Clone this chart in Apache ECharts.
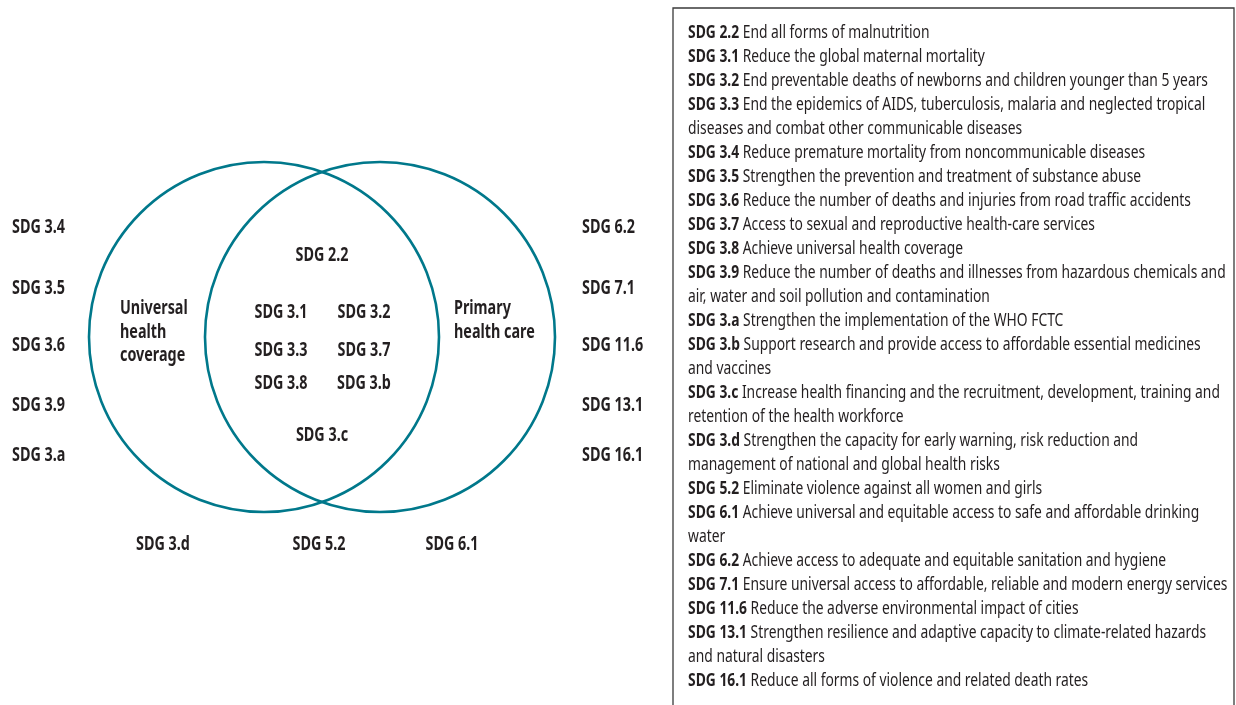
<!DOCTYPE html>
<html><head><meta charset="utf-8">
<style>html,body{margin:0;padding:0;background:#fff}#c{width:1236px;height:705px}</style>
<script src="https://cdn.jsdelivr.net/npm/echarts@6/dist/echarts.min.js"></script>
</head><body><div id="c"></div>
<script>
// ---------- DATA ----------
const setNames = ['Universal\nhealth\ncoverage', 'Primary\nhealth care'];
const leftGoals = ['SDG 3.4', 'SDG 3.5', 'SDG 3.6', 'SDG 3.9', 'SDG 3.a'];
const rightGoals = ['SDG 6.2', 'SDG 7.1', 'SDG 11.6', 'SDG 13.1', 'SDG 16.1'];
const bottomGoals = ['SDG 3.d', 'SDG 5.2', 'SDG 6.1'];
const sharedTop = ['SDG 2.2'];
const sharedGrid = ['SDG 3.1', 'SDG 3.2', 'SDG 3.3', 'SDG 3.7', 'SDG 3.8', 'SDG 3.b'];
const sharedBottom = ['SDG 3.c'];
const legendCodes = ['SDG 2.2','SDG 3.1','SDG 3.2','SDG 3.3','SDG 3.4','SDG 3.5','SDG 3.6','SDG 3.7','SDG 3.8','SDG 3.9','SDG 3.a','SDG 3.b','SDG 3.c','SDG 3.d','SDG 5.2','SDG 6.1','SDG 6.2','SDG 7.1','SDG 11.6','SDG 13.1','SDG 16.1'];
const legendTexts = [
  'End all forms of malnutrition',
  'Reduce the global maternal mortality',
  'End preventable deaths of newborns and children younger than 5 years',
  'End the epidemics of AIDS, tuberculosis, malaria and neglected tropical\ndiseases and combat other communicable diseases',
  'Reduce premature mortality from noncommunicable diseases',
  'Strengthen the prevention and treatment of substance abuse',
  'Reduce the number of deaths and injuries from road traffic accidents',
  'Access to sexual and reproductive health-care services',
  'Achieve universal health coverage',
  'Reduce the number of deaths and illnesses from hazardous chemicals and\nair, water and soil pollution and contamination',
  'Strengthen the implementation of the WHO FCTC',
  'Support research and provide access to affordable essential medicines\nand vaccines',
  'Increase health financing and the recruitment, development, training and\nretention of the health workforce',
  'Strengthen the capacity for early warning, risk reduction and\nmanagement of national and global health risks',
  'Eliminate violence against all women and girls',
  'Achieve universal and equitable access to safe and affordable drinking\nwater',
  'Achieve access to adequate and equitable sanitation and hygiene',
  'Ensure universal access to affordable, reliable and modern energy services',
  'Reduce the adverse environmental impact of cities',
  'Strengthen resilience and adaptive capacity to climate-related hazards\nand natural disasters',
  'Reduce all forms of violence and related death rates'
];

// ---------- LAYOUT ----------
const W = 1236, H = 705;
const FONT = '"Noto Sans", "Liberation Sans", sans-serif';
const INK = '#231f20';
const TEAL = '#00788b';
const circles = [{cx: 264, cy: 337, r: 175}, {cx: 380, cy: 337, r: 175}];
const sideRowsY = [228, 289, 346, 406, 456];
const ctx = document.createElement('canvas').getContext('2d');
function tw(font, s) { ctx.font = font; return ctx.measureText(s).width; }
const LBF = 19, LGF = 17.5;
const boldFont = `bold ${LBF}px ${FONT}`;
const labelScale = 53 / tw(boldFont, 'SDG 3.4');
const legendScale = 520 / (tw(`bold ${LGF}px ${FONT}`, 'SDG 3.2') + tw(`${LGF}px ${FONT}`, ' End preventable deaths of newborns and children younger than 5 years'));

const labels = [];
leftGoals.forEach((g, i) => labels.push({t: g, x: 12, y: sideRowsY[i], a: 'left'}));
rightGoals.forEach((g, i) => labels.push({t: g, x: 582, y: sideRowsY[i], a: 'left'}));
const bottomX = [163, 319, 452];
bottomGoals.forEach((g, i) => labels.push({t: g, x: bottomX[i], y: 545, a: 'center'}));
sharedTop.forEach(g => labels.push({t: g, x: 322, y: 256, a: 'center'}));
const gridRows = [313, 351, 384], gridCols = [281, 364];
sharedGrid.forEach((g, i) => labels.push({t: g, x: gridCols[i % 2], y: gridRows[Math.floor(i / 2)], a: 'center'}));
sharedBottom.forEach(g => labels.push({t: g, x: 322, y: 436, a: 'center'}));
const setLabelPos = [{x: 120, y: 309}, {x: 454, y: 309}];
setNames.forEach((n, si) => n.split('\n').forEach((line, li) =>
  labels.push({t: line, x: setLabelPos[si].x, y: setLabelPos[si].y + li * 23.5, a: 'left'})));

const legendLines = [];
legendCodes.forEach((c, i) => legendTexts[i].split('\n').forEach((line, li) =>
  legendLines.push(li === 0 ? `{b|${c}} ${line}` : line)));

const chart = echarts.init(document.getElementById('c'), null, {renderer: 'canvas'});
chart.setOption({
  animation: false,
  backgroundColor: '#fff',
  grid: {left: 0, right: 0, top: 0, bottom: 0},
  xAxis: {type: 'value', min: 0, max: W, show: false},
  yAxis: {type: 'value', min: 0, max: H, inverse: true, show: false},
  graphic: [{
    type: 'polyline', silent: true,
    shape: {points: [[673, H + 5], [673, 8], [1234, 8], [1234, H + 5]]},
    style: {stroke: '#3a3a3a', lineWidth: 1.3, fill: 'none'}
  }],
  series: [
    {
      type: 'custom', name: 'sets', silent: true,
      data: setNames.map((n, i) => [circles[i].cx, circles[i].cy, circles[i].r]),
      renderItem: (params, api) => {
        const p = api.coord([api.value(0), api.value(1)]);
        const r = api.size([api.value(2), 0])[0];
        return {type: 'circle', shape: {cx: p[0], cy: p[1], r},
          style: {fill: 'none', stroke: TEAL, lineWidth: 2.6}};
      }
    },
    {
      type: 'custom', name: 'goals', silent: true,
      data: labels.map((l, i) => [l.x, l.y, i]),
      renderItem: (params, api) => {
        const l = labels[api.value(2)];
        const p = api.coord([api.value(0), api.value(1)]);
        return {type: 'text', x: p[0], y: p[1], scaleX: labelScale,
          style: {text: l.t, fontSize: LBF, fontWeight: 'bold', fontFamily: FONT, fill: INK,
            align: l.a, verticalAlign: 'middle'}};
      }
    },
    {
      type: 'custom', name: 'legend', silent: true,
      data: legendLines.map((l, i) => [688, 33 + 24 * i, i]),
      renderItem: (params, api) => {
        const p = api.coord([api.value(0), api.value(1)]);
        return {type: 'text', x: p[0], y: p[1], scaleX: legendScale,
          style: {text: legendLines[api.value(2)], fontSize: LGF, fontFamily: FONT, fill: INK,
            align: 'left', verticalAlign: 'middle',
            rich: {b: {fontSize: LGF, fontWeight: 'bold', fontFamily: FONT, fill: INK}}}};
      }
    }
  ]
});
</script></body></html>
